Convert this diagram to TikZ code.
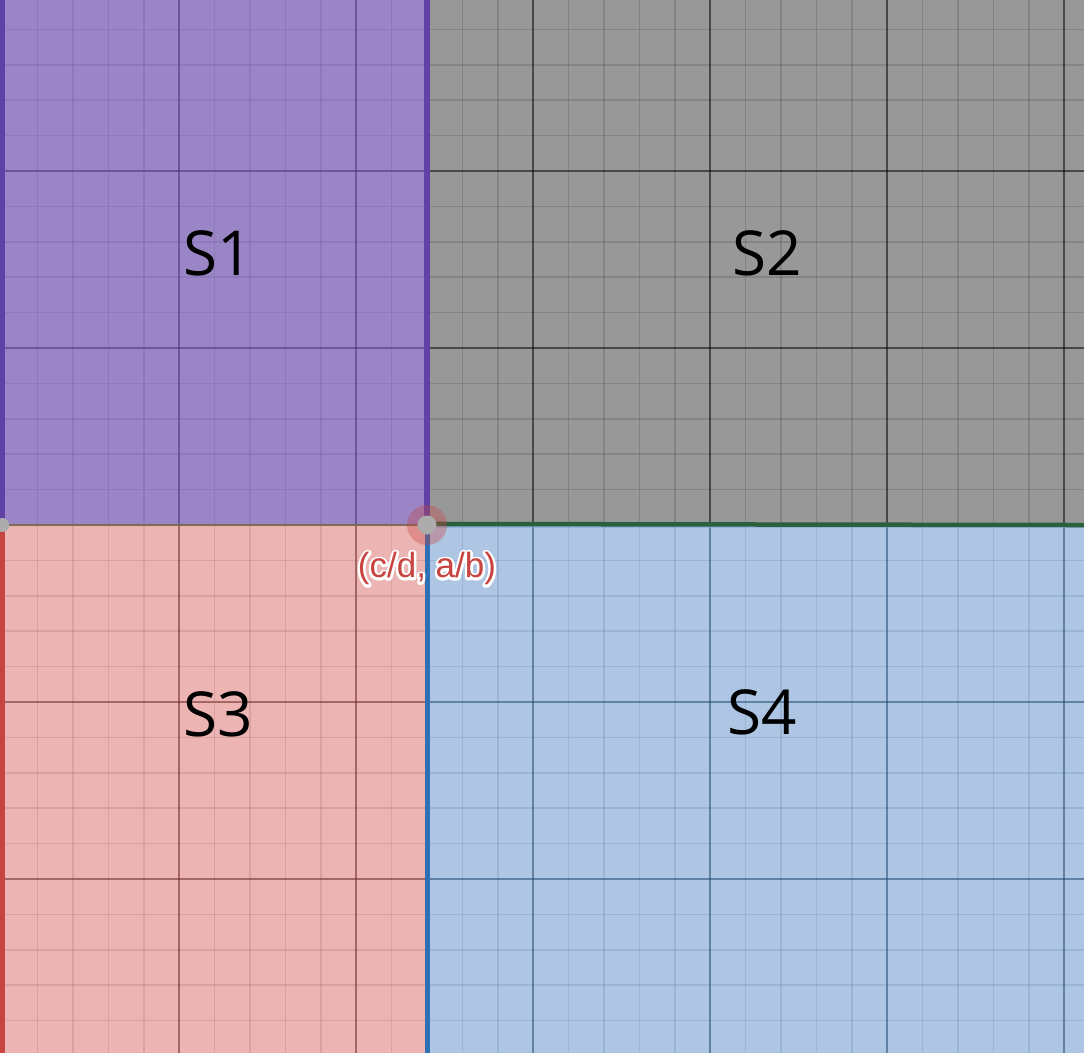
\documentclass[tikz,border=0pt]{standalone}
\usepackage{fontspec}
\setmainfont{Open Sans}
\newfontfamily\pointfont{Liberation Sans}
\definecolor{RegionPurple}{RGB}{154,134,198}
\definecolor{RegionGray}{RGB}{152,152,152}
\definecolor{RegionRed}{RGB}{236,181,179}
\definecolor{RegionBlue}{RGB}{174,198,227}
\definecolor{EdgePurple}{RGB}{96,66,166}
\definecolor{EdgeRed}{RGB}{199,68,64}
\definecolor{EdgeBlue}{RGB}{45,112,179}
\definecolor{EdgeGreen}{RGB}{42,96,62}
\definecolor{EdgeOlive}{RGB}{125,108,88}
\definecolor{PointGray}{RGB}{172,172,172}
\colorlet{GridPurple}{EdgePurple!70!black}
\colorlet{GridRed}{EdgeRed!50!black}
\colorlet{GridBlue}{EdgeBlue!60!black}
\colorlet{GridGray}{black}
% white outline drawn by stroking the glyphs
\newcommand{\haloed}[1]{\special{pdf:literal direct 1 Tr 4.8 w 1 j}#1\special{pdf:literal direct 0 Tr 1 w}}

\begin{document}
\begin{tikzpicture}[
    x=35.4pt, y=35.4pt,
    minor line/.style={opacity=0.13, line width=1.5pt},
    major line/.style={opacity=0.45, line width=1.8pt},
    region label/.style={font=\fontsize{62}{70}\selectfont, text=black},
    point label/.style={font=\pointfont\fontsize{35}{40}\selectfont},
    boundary/.style={line width=6pt},
    dot/.style={circle, fill=PointGray, inner sep=0pt}
  ]
    \useasboundingbox (-12.062,-14.887) rectangle (18.559,14.831);

    % the four regions, each with its own tinted grid
    \foreach \xa/\ya/\xb/\yb/\fc/\gc in {
        -12.1/0/0/14.9/RegionPurple/GridPurple,
        0/0/18.6/14.9/RegionGray/GridGray,
        -12.1/-14.9/0/0/RegionRed/GridRed,
        0/-14.9/18.6/0/RegionBlue/GridBlue} {
      \begin{scope}
        \clip (\xa,\ya) rectangle (\xb,\yb);
        \fill[\fc] (\xa,\ya) rectangle (\xb,\yb);
        \foreach \x in {-12,...,18}
          \draw[minor line, \gc] (\x,-14.9) -- (\x,14.9);
        \foreach \y in {-14,...,14}
          \draw[minor line, \gc] (-12.1,\y) -- (18.6,\y);
        \foreach \x in {-7,-2,...,18}
          \draw[major line, \gc] (\x,-14.9) -- (\x,14.9);
        \foreach \y in {-10,-5,...,10}
          \draw[major line, \gc] (-12.1,\y) -- (18.6,\y);
      \end{scope}
    }

    % boundaries
    \coordinate (top left) at (-12,14.9);
    \coordinate (top mid) at (0,14.9);
    \coordinate (bottom left) at (-12,-14.9);
    \coordinate (bottom mid) at (0,-14.9);
    \coordinate (right end) at (18.6,0);
    \draw[EdgeOlive, line width=2.5pt] (-12,0) -- (0,0);
    \draw[EdgeBlue!60, opacity=0.6, line width=2pt] (0,-0.06) -- (18.6,-0.06);
    \draw[EdgeGreen, line width=4.5pt] (0,0.03) -- (right end);
    \draw[EdgeRed, boundary] (-12,0) -- (bottom left);
    \draw[EdgeBlue, line width=5pt] (0,0) -- (bottom mid);
    \draw[EdgePurple, boundary] (-12,0) -- (top left);
    \draw[EdgePurple, boundary] (0,0) -- (top mid);

    % points
    \fill[EdgeRed, opacity=0.35] (0,0) circle (20pt);
    \node[dot, minimum size=19pt] (crit) at (0,0) {};
    \node[dot, minimum size=14pt] (corner) at (-12,0) {};
    \node[point label, text=white] (crit halo) at (0,-1.24) {\haloed{(c/d, a/b)}};
    \node[point label, text=EdgeRed] (crit label) at (crit halo) {(c/d, a/b)};

    % labels
    \node[region label] (s1) at (-5.9,7.68) {S1};
    \node[region label] (s2) at (9.6,7.68) {S2};
    \node[region label] (s3) at (-5.9,-5.34) {S3};
    \node[region label] (s4) at (9.46,-5.28) {S4};
  \end{tikzpicture}
\end{document}
